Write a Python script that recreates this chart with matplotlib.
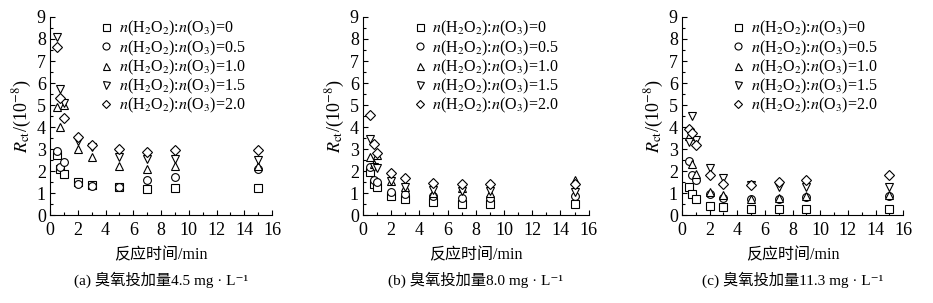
import matplotlib
matplotlib.use("Agg")
import matplotlib.pyplot as plt
from matplotlib.ticker import MultipleLocator

plt.rcParams['font.family'] = ['Liberation Serif', 'Noto Sans CJK SC', 'DejaVu Sans']
plt.rcParams['mathtext.fontset'] = 'stix'

time_min = [0.5, 0.75, 1, 2, 3, 5, 7, 9, 15]
ratio_labels = ["0", "0.5", "1.0", "1.5", "2.0"]
markers = ["s", "o", "^", "v", "D"]

# Panel (a) ozone dose 4.5 mg/L
a_r0 = [2.75, 2.1, 1.85, 1.5, 1.38, 1.3, 1.2, 1.25, 1.25]
a_r05 = [2.9, 2.2, 2.4, 1.42, 1.32, 1.3, 1.6, 1.75, 2.1]
a_r10 = [4.9, 4.0, 5.0, 3.0, 2.65, 2.25, 2.1, 2.25, 2.25]
a_r15 = [8.1, 5.75, 5.1, 3.35, 3.1, 2.65, 2.55, 2.55, 2.5]
a_r20 = [7.65, 5.3, 4.4, 3.55, 3.2, 3.0, 2.85, 2.95, 2.95]

# Panel (b) ozone dose 8.0 mg/L
b_r0 = [1.95, 1.4, 1.3, 0.85, 0.72, 0.58, 0.52, 0.5, 0.5]
b_r05 = [2.2, 1.6, 1.5, 1.05, 0.95, 0.85, 0.8, 0.8, 0.85]
b_r10 = [2.65, 2.3, 2.75, 1.55, 1.3, 1.0, 1.25, 1.0, 1.6]
b_r15 = [3.45, 2.2, 2.15, 1.55, 1.3, 1.15, 1.1, 1.1, 1.05]
b_r20 = [4.55, 3.25, 2.8, 1.9, 1.7, 1.45, 1.4, 1.4, 1.4]

# Panel (c) ozone dose 11.3 mg/L
c_r0 = [1.3, 0.95, 0.75, 0.42, 0.38, 0.3, 0.28, 0.28, 0.28]
c_r05 = [2.45, 1.8, 1.6, 0.95, 0.8, 0.72, 0.72, 0.82, 0.85]
c_r10 = [3.6, 2.3, 1.85, 1.05, 0.9, 0.75, 0.78, 0.85, 0.9]
c_r15 = [3.3, 4.5, 3.4, 2.15, 1.7, 1.35, 1.3, 1.3, 1.3]
c_r20 = [3.9, 3.75, 3.2, 1.8, 1.4, 1.35, 1.5, 1.6, 1.8]

panels = [
    ([a_r0, a_r05, a_r10, a_r15, a_r20], "(a) 臭氧投加量4.5 mg · L⁻¹"),
    ([b_r0, b_r05, b_r10, b_r15, b_r20], "(b) 臭氧投加量8.0 mg · L⁻¹"),
    ([c_r0, c_r05, c_r10, c_r15, c_r20], "(c) 臭氧投加量11.3 mg · L⁻¹"),
]

fig = plt.figure(figsize=(9.33, 3.03), dpi=100)
lefts = [0.0536, 0.389, 0.731]
widths = [0.238, 0.242, 0.237]

for (series, caption), left, width in zip(panels, lefts, widths):
    ax = fig.add_axes([left, 0.29, width, 0.654])
    for vals, mk, lab in zip(series, markers, ratio_labels):
        ms = 5.0 if mk == "D" else 5.6
        ax.plot(time_min, vals, linestyle="none", marker=mk, markersize=ms,
                markerfacecolor="white", markeredgecolor="black", markeredgewidth=0.8,
                label=r"$n$(H$_2$O$_2$):$n$(O$_3$)=" + lab)
    ax.set_xlim(0, 16)
    ax.set_ylim(0, 9)
    ax.xaxis.set_major_locator(MultipleLocator(2))
    ax.xaxis.set_minor_locator(MultipleLocator(1))
    ax.yaxis.set_major_locator(MultipleLocator(1))
    ax.yaxis.set_minor_locator(MultipleLocator(0.5))
    ax.tick_params(which="both", direction="in", labelsize=13, width=0.8)
    ax.tick_params(which="major", length=3.5)
    ax.tick_params(which="minor", length=2)
    ax.tick_params(axis="x", pad=5)
    ax.tick_params(axis="y", pad=3)
    ax.spines["top"].set_visible(False)
    ax.spines["right"].set_visible(False)
    for s in ("left", "bottom"):
        ax.spines[s].set_linewidth(0.8)
    ax.set_xlabel("反应时间/min", fontsize=11.5, labelpad=6)
    ax.set_ylabel(r"$R_{\rm ct}$/(10$^{-8}$)", fontsize=13, labelpad=2)
    ax.text(0.5, -0.285, caption, transform=ax.transAxes, ha="center", va="top",
            fontsize=11, family=['Liberation Serif', 'Noto Sans CJK SC', 'DejaVu Sans'])
    ax.legend(loc="upper left", bbox_to_anchor=(0.18, 1.045), frameon=False,
              fontsize=11.5, handlelength=0.6, handletextpad=0.5,
              labelspacing=0.0, borderpad=0.2, markerscale=0.9)

fig.savefig("out.png", dpi=100, facecolor="white")
